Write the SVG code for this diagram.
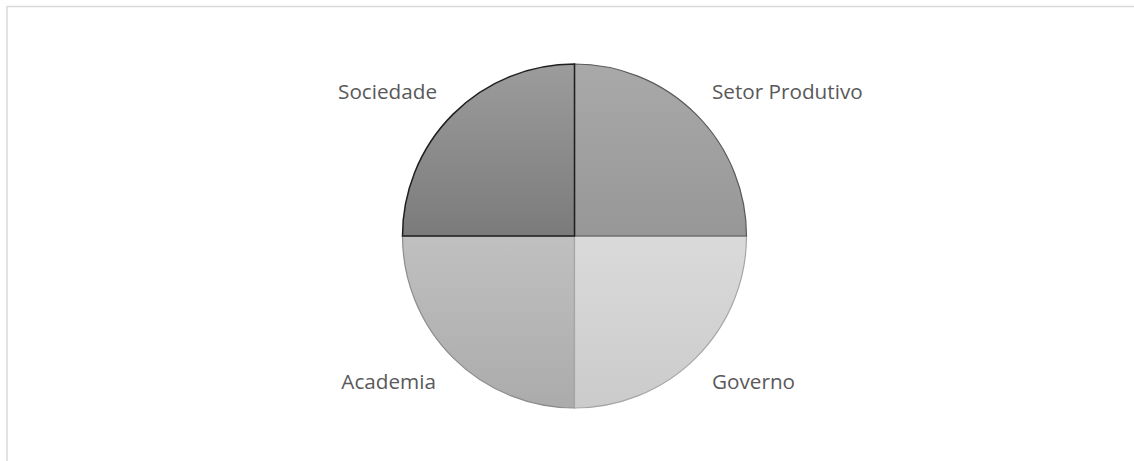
<svg xmlns="http://www.w3.org/2000/svg" width="1134" height="461" viewBox="0 0 1134 461">
<defs>
<linearGradient id="gSoc" x1="0" y1="0" x2="0" y2="1"><stop offset="0" stop-color="#9c9c9c"/><stop offset="1" stop-color="#7b7b7b"/></linearGradient>
<linearGradient id="gSet" x1="0" y1="0" x2="0" y2="1"><stop offset="0" stop-color="#a9a9a9"/><stop offset="1" stop-color="#979797"/></linearGradient>
<linearGradient id="gGov" x1="0" y1="0" x2="0" y2="1"><stop offset="0" stop-color="#dadada"/><stop offset="1" stop-color="#cbcbcb"/></linearGradient>
<linearGradient id="gAca" x1="0" y1="0" x2="0" y2="1"><stop offset="0" stop-color="#c0c0c0"/><stop offset="1" stop-color="#ababab"/></linearGradient>
</defs>
<style>
.lbl{font-family:"Open Sans","Liberation Sans",sans-serif;font-size:20.7px;fill:#595959}
</style>
<rect x="0" y="0" width="1134" height="461" fill="#ffffff"/>
<path d="M7 461 V6.5 H1134" fill="none" stroke="#d9d9d9" stroke-width="1.5"/>
<g id="academia">
<path d="M574.5 236 H402.5 A172 172 0 0 0 574.5 408 Z" fill="url(#gAca)" stroke="#8c8c8c" stroke-width="1.2"/>
</g>
<g id="governo">
<path d="M574.5 236 V408 A172 172 0 0 0 746.5 236 Z" fill="url(#gGov)" stroke="#a6a6a6" stroke-width="1.2"/>
</g>
<g id="setor-produtivo">
<path d="M574.5 236 H746.5 A172 172 0 0 0 574.5 64 Z" fill="url(#gSet)" stroke="#595959" stroke-width="1.2"/>
</g>
<g id="sociedade">
<path d="M574.5 236 V64 A172 172 0 0 0 402.5 236 Z" fill="url(#gSoc)" stroke="#1f1f1f" stroke-width="1.5"/>
</g>
<g id="labels">
<text class="lbl" x="437" y="99" text-anchor="end">Sociedade</text>
<text class="lbl" x="712" y="99">Setor Produtivo</text>
<text class="lbl" x="436" y="389" text-anchor="end">Academia</text>
<text class="lbl" x="712" y="389">Governo</text>
</g>
</svg>
